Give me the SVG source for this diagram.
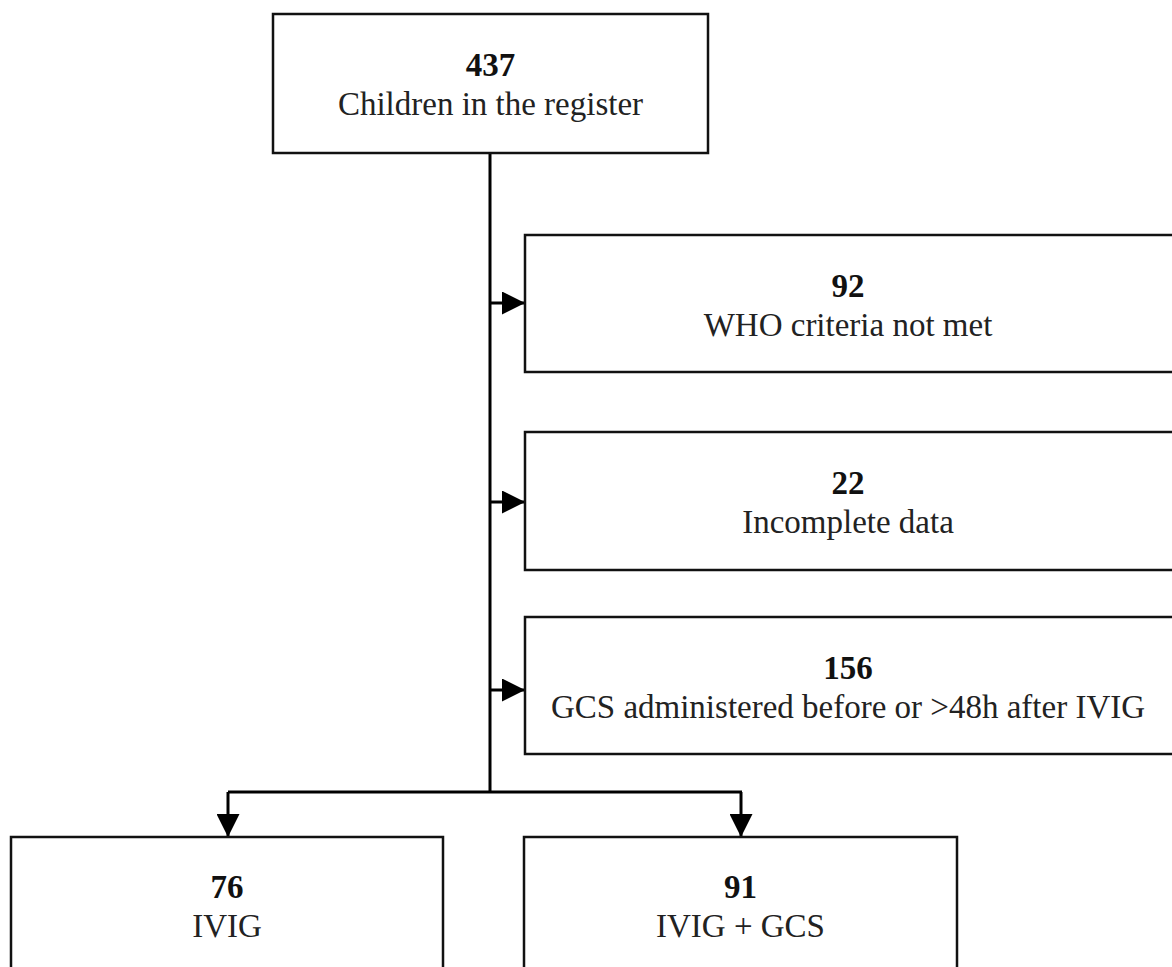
<svg xmlns="http://www.w3.org/2000/svg" width="1172" height="967" viewBox="0 0 1172 967">
<defs>
<style>
.box{fill:#fff;stroke:#111;stroke-width:2.5}
.ln{fill:none;stroke:#000;stroke-width:3}
.num{font-family:"Liberation Serif",serif;font-size:33px;font-weight:bold;fill:#111;text-anchor:middle}
.lbl{font-family:"Liberation Serif",serif;font-size:33px;fill:#222;text-anchor:middle}
</style>
<marker id="ah" markerWidth="23" markerHeight="23" viewBox="0 0 23 23" refX="23" refY="11.5" orient="auto" markerUnits="userSpaceOnUse">
<path d="M0,0 L23,11.5 L0,23 Z" fill="#000"/>
</marker>
</defs>
<rect width="1172" height="967" fill="#fff"/>
<g id="connectors">
<path class="ln" d="M490,153 V792"/>
<path class="ln" d="M490,303 H525" marker-end="url(#ah)"/>
<path class="ln" d="M490,502 H525" marker-end="url(#ah)"/>
<path class="ln" d="M490,690 H525" marker-end="url(#ah)"/>
<path class="ln" d="M228,792 H742"/>
<path class="ln" d="M228,792 V837" marker-end="url(#ah)"/>
<path class="ln" d="M741,792 V837" marker-end="url(#ah)"/>
</g>
<g id="n437">
<rect class="box" x="273" y="14" width="435" height="139"/>
<text class="num" x="490.5" y="76">437</text>
<text class="lbl" x="490.5" y="115">Children in the register</text>
</g>
<g id="n92">
<rect class="box" x="525" y="235" width="660" height="137"/>
<text class="num" x="848" y="297">92</text>
<text class="lbl" x="848" y="336">WHO criteria not met</text>
</g>
<g id="n22">
<rect class="box" x="525" y="432" width="660" height="138"/>
<text class="num" x="848" y="494">22</text>
<text class="lbl" x="848" y="533">Incomplete data</text>
</g>
<g id="n156">
<rect class="box" x="525" y="617" width="660" height="137"/>
<text class="num" x="848" y="679">156</text>
<text class="lbl" x="848" y="718">GCS administered before or &gt;48h after IVIG</text>
</g>
<g id="n76">
<rect class="box" x="11" y="837" width="432" height="150"/>
<text class="num" x="227" y="898">76</text>
<text class="lbl" x="227" y="937">IVIG</text>
</g>
<g id="n91">
<rect class="box" x="524" y="837" width="433" height="150"/>
<text class="num" x="740.5" y="898">91</text>
<text class="lbl" x="740.5" y="937">IVIG + GCS</text>
</g>
</svg>
